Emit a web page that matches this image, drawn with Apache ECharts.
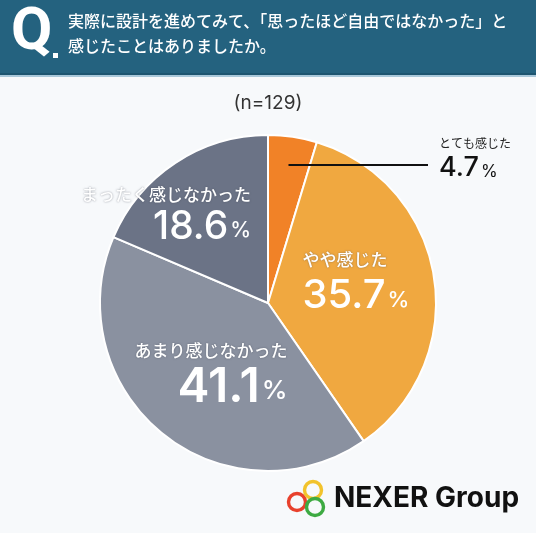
<!DOCTYPE html>
<html>
<head>
<meta charset="utf-8">
<script src="https://cdn.jsdelivr.net/npm/echarts@6/dist/echarts.min.js"></script>
<style>
  html, body { margin: 0; padding: 0; background: #f7f9fb; }
  #chart { width: 536px; height: 533px; }
</style>
</head>
<body>
<div id="chart"></div>
<script>
// 回答データ
const answerNames = ['とても感じた', 'やや感じた', 'あまり感じなかった', 'まったく感じなかった'];
const answerValues = [4.7, 35.7, 41.1, 18.6];
const sliceColors = ['#f18227', '#f0a840', '#8a91a0', '#6b7386'];
const sampleText = '(n=129)';
const questionLines = ['実際に設計を進めてみて、「思ったほど自由ではなかった」と', '感じたことはありましたか。'];

const jpFont = '"Noto Sans CJK JP", sans-serif';
const numFont = 'Inter, "Noto Sans", sans-serif';

// 内側ラベルの見た目 (揃え, 数字サイズ, 太さ, 行高, 位置ずらし)
const labelStyle = [
  null,
  { align: 'left',  num: 40, weight: 500, lh: 42, dx: 2,   dy: -9 },
  { align: 'right', num: 48, weight: 600, lh: 44, dx: -2,  dy: 2 },
  { align: 'right', num: 39, weight: 500, lh: 36, dx: -54, dy: -18 }
];

const chart = echarts.init(document.getElementById('chart'));

const pieCenter = [268, 303];
const pieRadius = 168;

// 「とても感じた」の引き出し線：スライス中央角・半径83%の点から水平に
const total = answerValues.reduce((a, b) => a + b, 0);
const midAngle = (90 - answerValues[0] / total * 180) * Math.PI / 180;
const leadX = pieCenter[0] + pieRadius * 0.83 * Math.cos(midAngle);
const leadY = pieCenter[1] - pieRadius * 0.83 * Math.sin(midAngle);
const outLabelX = 439;

function insideLabel(s) {
  return {
    position: 'inside',
    formatter: '{n|{b}}\n{v|{c}}{p|%}',
    rich: {
      n: {
        color: '#fff', fontSize: 17, fontFamily: jpFont, fontWeight: 500, align: s.align, lineHeight: 30,
        textShadowColor: 'rgba(60,65,80,0.55)', textShadowBlur: 2
      },
      v: { color: '#fff', fontSize: s.num, fontFamily: numFont, fontWeight: s.weight, align: s.align, lineHeight: s.lh },
      p: { color: '#fff', fontSize: Math.round(s.num * 0.55), fontFamily: numFont, fontWeight: 500, align: s.align, lineHeight: s.lh, verticalAlign: 'bottom', padding: [0, 0, Math.round(s.lh * 0.12), 2] }
    }
  };
}

const option = {
  backgroundColor: '#f7f9fb',
  animation: false,
  graphic: [
    { type: 'rect', shape: { x: 0, y: 0, width: 536, height: 73 }, style: { fill: '#24627f' } },
    { type: 'rect', shape: { x: 0, y: 73, width: 536, height: 2 }, style: { fill: '#1d5570' } },
    { type: 'rect', shape: { x: 0, y: 75, width: 536, height: 2 }, style: { fill: '#a9c8da' } },
    {
      type: 'text', left: 11, top: 4,
      style: { text: 'Q', fill: '#fff', font: 'bold 60px Roboto, sans-serif' }
    },
    { type: 'rect', shape: { x: 53, y: 53, width: 5, height: 5 }, style: { fill: '#fff' } },
    {
      type: 'text', left: 68, top: 13,
      style: { text: questionLines[0], fill: '#fff', font: '500 16px ' + jpFont }
    },
    {
      type: 'text', left: 68, top: 38,
      style: { text: questionLines[1], fill: '#fff', font: '500 16px ' + jpFont }
    },
    {
      type: 'text', left: 'center', top: 94,
      style: { text: sampleText, fill: '#333', font: '19px ' + numFont }
    },
    {
      type: 'line', z: 100,
      shape: { x1: leadX, y1: leadY, x2: outLabelX - 11, y2: leadY },
      style: { stroke: '#111', lineWidth: 2 }
    },
    // ロゴ
    { type: 'circle', shape: { cx: 297, cy: 502, r: 8.5 }, style: { fill: 'none', stroke: '#e8412c', lineWidth: 3.4 } },
    { type: 'circle', shape: { cx: 313, cy: 490, r: 8.5 }, style: { fill: 'none', stroke: '#f2c32c', lineWidth: 3.4 } },
    { type: 'circle', shape: { cx: 315, cy: 507, r: 8.5 }, style: { fill: 'none', stroke: '#3daa42', lineWidth: 3.4 } },
    {
      type: 'text', left: 334, top: 485,
      style: { text: 'NEXER Group', fill: '#111', font: 'bold 28px ' + numFont }
    }
  ],
  series: [{
    type: 'pie',
    center: pieCenter,
    radius: pieRadius,
    startAngle: 90,
    clockwise: true,
    silent: true,
    avoidLabelOverlap: false,
    itemStyle: { borderColor: '#ffffff', borderWidth: 2 },
    labelLine: { show: false },
    data: answerNames.map((name, i) => ({
      name: name,
      value: answerValues[i],
      itemStyle: { color: sliceColors[i] },
      label: i > 0 ? insideLabel(labelStyle[i]) : {
        position: 'outside',
        formatter: '{n|{b}}\n{v|{c}}{p|%}',
        rich: {
          n: { color: '#222', fontSize: 12, fontFamily: jpFont, lineHeight: 18 },
          v: { color: '#111', fontSize: 27, fontFamily: numFont, fontWeight: 500, lineHeight: 32 },
          p: { color: '#111', fontSize: 17, fontFamily: numFont, lineHeight: 32, verticalAlign: 'bottom', padding: [0, 0, 4, 2] }
        }
      }
    })),
    labelLayout: function (params) {
      const i = params.dataIndex;
      if (i === 0) {
        return { x: outLabelX, y: leadY - 6, align: 'left', verticalAlign: 'middle' };
      }
      return { dx: labelStyle[i].dx, dy: labelStyle[i].dy };
    }
  }]
};

chart.setOption(option);
</script>
</body>
</html>
